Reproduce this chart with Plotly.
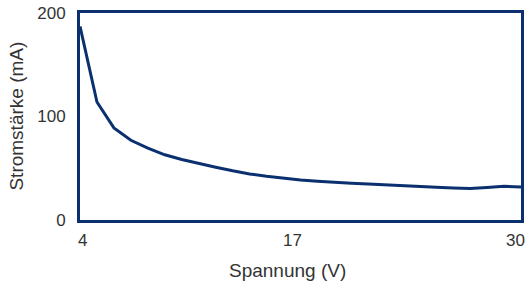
import plotly.graph_objects as go

spannung_v = [4, 5, 6, 7, 8, 9, 10, 11, 12, 13, 14, 15, 16, 17, 18, 19, 20,
              21, 22, 23, 24, 25, 26, 27, 28, 29, 30]
stromstaerke_ma = [187, 114, 89, 77, 69.5, 63, 58.5, 54.5, 51, 47.5, 44.5, 42.3, 40.4, 38.7,
                   37.4, 36.2, 35.5, 34.7, 33.8, 32.9, 32.1, 31.6, 31, 30.5, 31.5, 32.5, 32]
x_ticks = [4, 17, 30]
y_ticks = [0, 100, 200]

navy = "#0b3070"
text_col = "#333333"
font_family = "Liberation Sans, Arial, sans-serif"

fig = go.Figure()
fig.add_trace(go.Scatter(x=spannung_v, y=stromstaerke_ma, mode="lines",
                         line=dict(color=navy, width=3), showlegend=False,
                         hoverinfo="skip"))

fig.update_layout(
    width=527, height=281,
    margin=dict(l=80, r=6, t=13, b=61, autoexpand=False),
    paper_bgcolor="white", plot_bgcolor="white",
    font=dict(family=font_family, color=text_col, size=17),
)
fig.update_xaxes(range=[4, 30], showticklabels=False, automargin=False,
                 showgrid=False, zeroline=False, showline=True, mirror=True,
                 linecolor=navy, linewidth=3, ticks="")
fig.update_yaxes(range=[0, 200], tickvals=y_ticks, ticktext=[str(v) for v in y_ticks],
                 automargin=False,
                 showgrid=False, zeroline=False, showline=True, mirror=True,
                 linecolor=navy, linewidth=3, ticks="", ticklabelstandoff=8)

# x tick labels (last one kept inside the page)
for i, v in enumerate(x_ticks):
    last = i == len(x_ticks) - 1
    fig.add_annotation(x=v, xref="x", y=0, yref="paper", yanchor="top",
                       yshift=-9, text=str(v), showarrow=False,
                       xanchor="right" if last else "center",
                       xshift=6 if last else (2 if i == 0 else -8),
                       font=dict(size=17))

fig.add_annotation(x=0.47, xref="paper", y=-0.185, yref="paper", yanchor="top",
                   text="Spannung (V)", showarrow=False, font=dict(size=19))
fig.add_annotation(x=-0.145, xref="paper", y=0.5, yref="paper", textangle=-90,
                   xanchor="center", yanchor="middle",
                   text="Stromstärke (mA)", showarrow=False, font=dict(size=19))

fig.write_html("out.html", config={"displayModeBar": False},
               post_script="document.body.style.margin='0';document.body.style.overflow='hidden';")
